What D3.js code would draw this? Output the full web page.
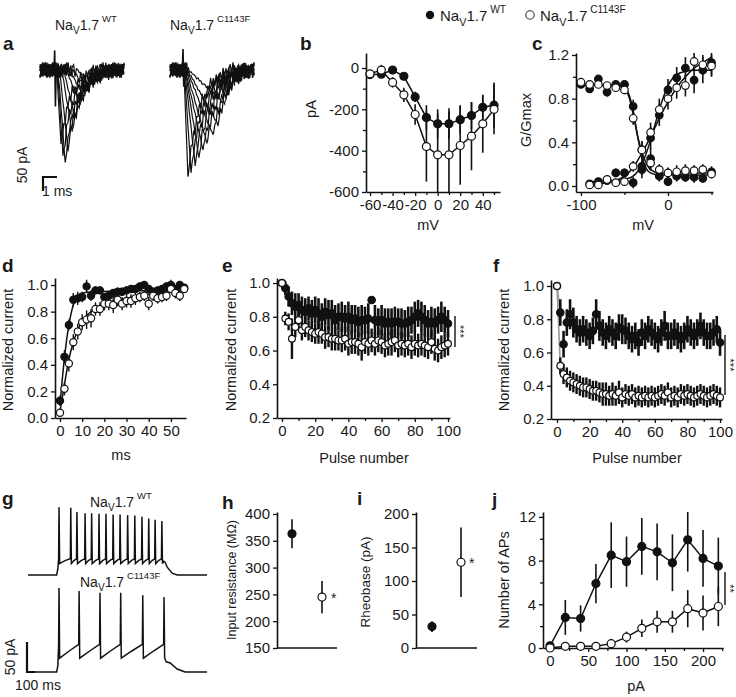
<!DOCTYPE html>
<html><head><meta charset="utf-8">
<script src="https://cdn.jsdelivr.net/npm/d3@7"></script>
<style>
body{margin:0;background:#fff}
text{font-family:"Liberation Sans",Arial,Helvetica,sans-serif;fill:#1a1a1a}
</style>
</head><body>
<svg id="fig" width="736" height="697"></svg>
<script>
// ===================== DATA =====================
// Panel a: current traces (ms, pA) — key points per sweep
const aWtOnset = [1.2,1.25,1.3,1.4,1.55,1.7,1.9,2.1,2.3,2.6];
const aWtPeakT = [1.5,1.64,1.8,2.0,2.3,2.5,2.86,3.14,3.4,3.8];
const aWtPeakA = [-268,-304,-332,-286,-221,-171,-125,-96,-71,-40];
const aWtEnd   = [4.0,4.3,4.6,4.8,5.0,5.3,5.5,5.8,5.9,6.0];
const aMutOnset = [1.0,1.02,1.05,1.08,1.1,1.15,1.2,1.25,1.3];
const aMutPeakT = [1.28,1.5,1.8,2.07,2.36,2.64,3.07,3.43,3.9];
const aMutPeakA = [-382,-364,-339,-314,-286,-261,-232,-196,-120];
const aMutEnd   = [4.3,4.6,4.9,5.2,5.5,5.8,6.0,6.0,6.0];
const aNoise = [12,-18,22,-9,15,-24,6,19,-14,25,-6,-20,10,17,-22,4,21,-12,8,-25,14,-4,18,-16,24,-10,5,-21,13,-7,20,-15,9,-19,16,-3,11];
const aWtArtifact = [[1.0,0],[1.05,70],[1.1,-130],[1.15,-20],[1.2,0]];
const aMutArtifact = [[0.88,0],[0.93,75],[0.98,-60],[1.02,0]];

// Panel b: I-V
const bVolt = [-60,-50,-40,-30,-20,-10,0,10,20,30,40,50];
const bWT = [-32,-30,-10,-40,-140,-240,-270,-270,-250,-230,-190,-180];
const bWTErr = [8,8,10,15,25,60,70,75,70,65,60,110];
const bMut = [-28,-10,-70,-130,-225,-380,-420,-420,-375,-330,-270,-200];
const bMutErr = [10,25,25,35,50,170,200,210,190,165,140,120];

// Panel c: activation / inactivation
const cInactV = [-100,-90,-80,-70,-60,-50,-40,-30,-20,-10,0,10,20,30,40,50];
const cInactWT = [0.93,0.89,0.98,0.86,0.93,0.93,0.73,0.18,0.25,0.09,0.04,0.09,0.08,0.08,0.07,0.13];
const cInactWTErr = [0.02,0.02,0.02,0.04,0.03,0.03,0.06,0.08,0.10,0.05,0.04,0.05,0.04,0.05,0.04,0.05];
const cInactMut = [0.95,0.93,0.93,0.92,0.90,0.88,0.62,0.33,0.21,0.15,0.12,0.13,0.14,0.14,0.15,0.11];
const cInactMutErr = [0.02,0.02,0.02,0.02,0.03,0.04,0.06,0.08,0.07,0.05,0.05,0.06,0.06,0.05,0.05,0.04];
const cActV = [-90,-80,-70,-60,-50,-40,-30,-20,-10,0,10,20,30,40,50];
const cActWT = [0.02,0.04,0.05,0.12,0.12,0.03,0.15,0.44,0.65,0.88,0.99,1.08,0.97,1.06,1.13];
const cActWTErr = [0.03,0.03,0.03,0.04,0.04,0.05,0.08,0.10,0.10,0.10,0.10,0.10,0.12,0.12,0.12];
const cActMut = [0.01,0.01,0.06,0.03,0.04,0.18,0.33,0.49,0.70,0.80,0.90,0.92,1.14,1.11,1.10];
const cActMutErr = [0.02,0.02,0.03,0.03,0.04,0.05,0.08,0.09,0.10,0.10,0.10,0.10,0.08,0.09,0.10];
// fitted Boltzmann curves
const cFitInactWT = [[-100,0.92],[-60,0.92],[-50,0.90],[-45,0.84],[-40,0.69],[-35,0.46],[-30,0.27],[-25,0.16],[-20,0.12],[-10,0.10],[50,0.10]];
const cFitInactMut = [[-100,0.93],[-60,0.92],[-50,0.89],[-45,0.82],[-40,0.66],[-35,0.46],[-30,0.31],[-25,0.21],[-20,0.15],[-10,0.12],[50,0.12]];
const cFitActWT = [[-90,0.04],[-60,0.05],[-50,0.06],[-40,0.09],[-30,0.2],[-25,0.3],[-20,0.42],[-15,0.56],[-10,0.7],[-5,0.82],[0,0.92],[10,1.02],[20,1.05],[30,1.06],[50,1.06]];
const cFitActMut = [[-90,0.01],[-70,0.03],[-60,0.05],[-50,0.09],[-40,0.17],[-30,0.3],[-20,0.45],[-10,0.62],[0,0.77],[10,0.9],[20,1.0],[30,1.08],[40,1.13],[50,1.18]];

// Panel d: recovery from inactivation
const dTime = [0,2,4,6,8,10,12,14,16,18,20,22,24,26,28,30,32,34,36,38,40,42,44,46,48,50,52,54,56];
const dWT = [0.13,0.46,0.70,0.89,0.90,0.91,0.99,0.92,0.96,0.96,0.91,0.92,0.94,0.95,0.95,0.96,0.97,0.97,0.99,1.00,0.97,0.95,0.96,0.97,0.99,1.00,0.97,1.00,0.98];
const dWTErr = [0.04,0.05,0.04,0.05,0.05,0.04,0.05,0.04,0.03,0.03,0.03,0.03,0.03,0.03,0.03,0.03,0.03,0.03,0.03,0.03,0.03,0.03,0.03,0.03,0.03,0.04,0.03,0.03,0.03];
const dMut = [0.04,0.22,0.41,0.57,0.65,0.72,0.74,0.75,0.82,0.82,0.86,0.86,0.85,0.89,0.86,0.88,0.88,0.90,0.91,0.92,0.86,0.92,0.90,0.91,0.92,0.97,0.94,0.92,0.97];
const dMutErr = [0.02,0.05,0.06,0.06,0.06,0.06,0.07,0.07,0.05,0.05,0.05,0.05,0.06,0.05,0.05,0.05,0.05,0.05,0.04,0.04,0.05,0.04,0.04,0.04,0.04,0.03,0.04,0.04,0.03];
const dFitWT = [[0,0.10],[2,0.45],[4,0.70],[6,0.85],[8,0.92],[10,0.94],[15,0.95],[56,0.96]];
const dFitMut = [[0,0.05],[2,0.25],[4,0.44],[6,0.57],[8,0.66],[10,0.73],[14,0.80],[20,0.86],[30,0.90],[40,0.93],[56,0.96]];

// Panel e: use-dependent (low frequency)
const pulses = [0,2,4,6,8,10,12,14,16,18,20,22,24,26,28,30,32,34,36,38,40,42,44,46,48,50,52,54,56,58,60,62,64,66,68,70,72,74,76,78,80,82,84,86,88,90,92,94,96,98,100];
const eWT = [1.00,0.97,0.92,0.88,0.86,0.87,0.84,0.83,0.85,0.82,0.84,0.82,0.80,0.83,0.81,0.82,0.78,0.80,0.80,0.79,0.80,0.78,0.79,0.77,0.78,0.78,0.79,0.90,0.78,0.77,0.78,0.76,0.77,0.76,0.77,0.77,0.76,0.76,0.77,0.78,0.80,0.82,0.80,0.78,0.76,0.77,0.76,0.78,0.80,0.78,0.76];
const eWTErr = [0.02,0.04,0.06,0.07,0.08,0.07,0.08,0.08,0.07,0.08,0.08,0.09,0.08,0.08,0.09,0.08,0.09,0.08,0.09,0.08,0.09,0.09,0.08,0.09,0.09,0.08,0.09,0.02,0.09,0.08,0.09,0.09,0.08,0.09,0.09,0.08,0.09,0.08,0.09,0.08,0.09,0.08,0.09,0.09,0.08,0.09,0.09,0.08,0.09,0.08,0.08];
const eMut = [1.00,0.79,0.77,0.67,0.74,0.78,0.72,0.74,0.72,0.71,0.70,0.71,0.70,0.68,0.68,0.67,0.67,0.66,0.66,0.67,0.64,0.65,0.65,0.64,0.62,0.65,0.64,0.66,0.64,0.66,0.65,0.63,0.64,0.65,0.66,0.63,0.64,0.63,0.64,0.62,0.64,0.63,0.64,0.63,0.62,0.65,0.61,0.60,0.62,0.63,0.64];
const eMutErr = [0.01,0.04,0.05,0.12,0.06,0.06,0.06,0.06,0.06,0.06,0.06,0.07,0.06,0.07,0.06,0.07,0.07,0.06,0.07,0.07,0.07,0.07,0.07,0.07,0.08,0.07,0.07,0.07,0.07,0.07,0.07,0.07,0.07,0.08,0.07,0.07,0.07,0.07,0.07,0.07,0.07,0.07,0.07,0.07,0.07,0.07,0.07,0.07,0.07,0.07,0.07];

// Panel f: use-dependent (high frequency)
const fWT = [1.00,0.84,0.65,0.78,0.83,0.78,0.74,0.72,0.74,0.72,0.70,0.73,0.83,0.76,0.72,0.70,0.74,0.72,0.70,0.75,0.74,0.73,0.70,0.68,0.70,0.66,0.72,0.70,0.74,0.72,0.70,0.68,0.72,0.76,0.70,0.70,0.72,0.70,0.68,0.70,0.74,0.72,0.70,0.72,0.76,0.72,0.70,0.70,0.72,0.74,0.66];
const fWTErr = [0.01,0.08,0.08,0.08,0.09,0.09,0.08,0.08,0.08,0.08,0.08,0.08,0.09,0.09,0.08,0.08,0.08,0.08,0.08,0.08,0.09,0.08,0.08,0.08,0.08,0.08,0.08,0.08,0.08,0.08,0.08,0.08,0.08,0.09,0.08,0.08,0.08,0.08,0.08,0.08,0.08,0.08,0.08,0.08,0.08,0.08,0.08,0.08,0.08,0.08,0.08];
const fMut = [1.00,0.52,0.47,0.45,0.43,0.42,0.41,0.40,0.39,0.39,0.38,0.37,0.37,0.36,0.35,0.35,0.34,0.35,0.34,0.36,0.33,0.35,0.34,0.35,0.33,0.34,0.33,0.34,0.33,0.34,0.33,0.34,0.35,0.34,0.36,0.33,0.34,0.33,0.35,0.34,0.35,0.34,0.33,0.34,0.35,0.34,0.33,0.34,0.35,0.34,0.33];
const fMutErr = [0.01,0.05,0.06,0.06,0.06,0.06,0.06,0.06,0.06,0.06,0.06,0.06,0.06,0.06,0.07,0.07,0.06,0.07,0.06,0.07,0.06,0.06,0.06,0.06,0.06,0.06,0.06,0.06,0.06,0.06,0.06,0.06,0.06,0.06,0.06,0.06,0.06,0.06,0.06,0.06,0.06,0.06,0.06,0.06,0.06,0.06,0.06,0.06,0.06,0.06,0.06];

// Panel g: action potential trains (ms, mV)
const gStimOn = 150, gStimOff = 690;
const gTopSpikes = [156,215,246,287,320,357,392,428,463,501,537,573,607,639,673];
const gTopPeaks  = [48,47,40,38,38,37,37,36,36,35,34,32,29,27,25];
const gBotSpikes = [156,257,362,466,577,684];
const gBotPeaks  = [75,70,67,67,63,60];

// Panel h, i: passive/active properties
const groups = ["WT","C1143F"];
const hVals = [363,245];
const hErr = [27,30];
const iVals = [32,128];
const iErr = [8,52];

// Panel j: firing vs current
const jCurr = [0,20,40,60,80,100,120,140,160,180,200,220];
const jWT = [0.2,2.8,2.7,5.9,8.5,7.9,9.3,8.8,7.8,9.9,8.2,7.5];
const jWTErr = [0.1,1.6,1.2,1.8,3.0,2.3,2.6,2.6,2.6,2.9,2.6,2.6];
const jMut = [0.0,0.15,0.15,0.15,0.4,1.0,1.8,2.4,2.4,3.6,3.2,3.8];
const jMutErr = [0.0,0.1,0.1,0.1,0.2,0.5,0.8,1.0,1.0,1.7,1.6,1.8];

// ===================== DRAWING =====================
const svg = d3.select("#fig");
const INK = "#111";
const FS_TICK = 15, FS_LAB = 14.5;

function styleAxis(sel){
  sel.select(".domain").attr("stroke",INK).attr("stroke-width",1.6);
  sel.selectAll(".tick line").attr("stroke",INK).attr("stroke-width",1.3);
  sel.selectAll(".tick text").attr("fill","#1a1a1a").style("font-size",FS_TICK+"px")
     .style("font-family",'"Liberation Sans",Arial,sans-serif');
}
function xAxis(g, x, yPos, major, minor, fmt){
  const a = g.append("g").attr("transform",`translate(0,${yPos})`)
    .call(d3.axisBottom(x).tickValues(major).tickFormat(fmt||(d=>String(d))).tickSize(4).tickSizeOuter(0).tickPadding(3));
  styleAxis(a);
  if(minor){
    const m = g.append("g").attr("transform",`translate(0,${yPos})`)
      .call(d3.axisBottom(x).tickValues(minor).tickFormat("").tickSize(3).tickSizeOuter(0));
    m.select(".domain").remove(); styleAxis(m);
  }
}
function yAxis(g, y, xPos, major, minor, fmt){
  const a = g.append("g").attr("transform",`translate(${xPos},0)`)
    .call(d3.axisLeft(y).tickValues(major).tickFormat(fmt||(d=>String(d))).tickSize(4).tickSizeOuter(0).tickPadding(3));
  styleAxis(a);
  if(minor){
    const m = g.append("g").attr("transform",`translate(${xPos},0)`)
      .call(d3.axisLeft(y).tickValues(minor).tickFormat("").tickSize(3).tickSizeOuter(0));
    m.select(".domain").remove(); styleAxis(m);
  }
}
function errBars(g, xs, ys, xv, v, e, w){
  const [lo, hi] = d3.extent(ys.range());
  g.append("g").selectAll("line").data(v).join("line")
    .attr("x1",(d,i)=>xs(xv[i])).attr("x2",(d,i)=>xs(xv[i]))
    .attr("y1",(d,i)=>Math.min(hi,Math.max(lo,ys(d-e[i]))))
    .attr("y2",(d,i)=>Math.min(hi,Math.max(lo,ys(d+e[i]))))
    .attr("stroke",INK).attr("stroke-width",w||1.6);
}
function dots(g, xs, ys, xv, v, filled, r){
  g.append("g").selectAll("circle").data(v).join("circle")
    .attr("cx",(d,i)=>xs(xv[i])).attr("cy",d=>ys(d)).attr("r",r||3.8)
    .attr("fill",filled?INK:"#fff").attr("stroke",INK).attr("stroke-width",1.2);
}
function connect(g, xs, ys, xv, v, curve, color, w){
  const ln = d3.line().x((d,i)=>xs(xv[i])).y(d=>ys(d)).curve(curve||d3.curveLinear);
  g.append("path").attr("d",ln(v)).attr("fill","none").attr("stroke",color||INK).attr("stroke-width",w||1.5);
}
function fitLine(g, xs, ys, pts){
  const ln = d3.line().x(d=>xs(d[0])).y(d=>ys(d[1])).curve(d3.curveMonotoneX);
  g.append("path").attr("d",ln(pts)).attr("fill","none").attr("stroke",INK).attr("stroke-width",1.5);
}
function txt(x,y,s,opt){
  opt=opt||{};
  const t = svg.append("text").attr("x",x).attr("y",y).text(s)
    .style("font-size",(opt.fs||FS_LAB)+"px").attr("text-anchor",opt.anchor||"start");
  if(opt.bold) t.style("font-weight","bold");
  if(opt.rot) t.attr("transform",`rotate(${opt.rot},${x},${y})`);
  return t;
}
function naText(x,y,sup,fs){
  const t = svg.append("text").attr("x",x).attr("y",y).style("font-size",fs+"px");
  t.append("tspan").text("Na");
  t.append("tspan").attr("dy",fs*0.3).style("font-size",(fs*0.72)+"px").text("V");
  t.append("tspan").attr("dy",-fs*0.3).text("1.7");
  t.append("tspan").attr("dy",-fs*0.55).attr("dx",3).style("font-size",(fs*0.68)+"px").text(sup);
}
function sigBar(x, y0, y1, stars){
  svg.append("line").attr("x1",x).attr("x2",x).attr("y1",y0).attr("y2",y1).attr("stroke",INK).attr("stroke-width",1.4);
  txt(x+1,(y0+y1)/2,stars,{fs:11,anchor:"middle",rot:90});
}

// ---------- Legend ----------
svg.append("circle").attr("cx",430).attr("cy",15).attr("r",4.2).attr("fill",INK);
naText(440,21,"WT",15);
svg.append("circle").attr("cx",530).attr("cy",15).attr("r",4.2).attr("fill","#fff").attr("stroke","#333").attr("stroke-width",1.1);
naText(540,21,"C1143F",15);

// ---------- Panel labels ----------
[["a",3,50],["b",300,50],["c",532,50],["d",2,272],["e",222,272],["f",493,272],["g",2,505],["h",222,509],["i",357,505],["j",492,506]]
  .forEach(([s,x,y])=>txt(x,y,s,{fs:19,bold:true}));

// ---------- Panel a ----------
{
  const g = svg.append("g");
  const ay = d3.scaleLinear().domain([0,-350]).range([70,168]);
  function drawSet(x0, onset, peakT, peakA, endT, artifact){
    const tx = d3.scaleLinear().domain([0,6]).range([x0,x0+84]);
    const base = d3.range(0,6.0001,0.1);
    onset.forEach((o,k)=>{
      const tp = peakT[k], A = peakA[k], te = endT[k], dd = te-tp;
      const resp = d3.scaleLinear().domain([o,tp,tp+0.12*dd,tp+0.3*dd,tp+0.55*dd,te])
        .range([0,A,A*0.62,A*0.32,A*0.12,0]).clamp(true);
      const ts = Array.from(new Set(base.concat([o,tp]))).sort((a,b)=>a-b);
      const pts = ts.map((t,i)=>[t, resp(t) + aNoise[(i + k*7) % aNoise.length]*((t>o && t<tp+0.15)?0.2:1.1)]);
      g.append("path").attr("d",d3.line().x(d=>tx(d[0])).y(d=>ay(d[1]))(pts))
        .attr("fill","none").attr("stroke",INK).attr("stroke-width",1.2);
    });
    g.append("path").attr("d",d3.line().x(d=>tx(d[0])).y(d=>ay(d[1]))(artifact))
      .attr("fill","none").attr("stroke",INK).attr("stroke-width",1.6);
    return tx;
  }
  const tx = drawSet(40, aWtOnset, aWtPeakT, aWtPeakA, aWtEnd, aWtArtifact);
  drawSet(170, aMutOnset, aMutPeakT, aMutPeakA, aMutEnd, aMutArtifact);
  // scale bar: 50 pA, 1 ms
  const sx = 43, sy = ay(0)-ay(-50), sw = tx(1)-tx(0);
  g.append("path").attr("d",`M${sx},${177-sy}V177H${sx+sw}`).attr("fill","none").attr("stroke",INK).attr("stroke-width",2.2);
  txt(27,165,"50 pA",{fs:14,anchor:"middle",rot:-90});
  txt(42,196,"1 ms",{fs:14});
  naText(55,30,"WT",14);
  naText(170,30,"C1143F",14);
}

// ---------- Panel b ----------
{
  const g = svg.append("g");
  const x = d3.scaleLinear().domain([-63.6,55.3]).range([366,500]);
  const y = d3.scaleLinear().domain([-600,72.6]).range([192,53]);
  yAxis(g,y,366,[0,-200,-400,-600],[-100,-300,-500]);
  xAxis(g,x,192,[-60,-40,-20,0,20,40],[-50,-30,-10,10,30,50]);
  errBars(g,x,y,bVolt,bMut,bMutErr);
  errBars(g,x,y,bVolt,bWT,bWTErr);
  connect(g,x,y,bVolt,bWT);
  connect(g,x,y,bVolt,bMut);
  dots(g,x,y,bVolt,bWT,true,4);
  dots(g,x,y,bVolt,bMut,false,4);
  txt(316,109,"pA",{anchor:"middle",rot:-90});
  txt(428,230,"mV",{anchor:"middle"});
}

// ---------- Panel c ----------
{
  const g = svg.append("g");
  const x = d3.scaleLinear().domain([-105.7,51.7]).range([576,713]);
  const y = d3.scaleLinear().domain([-0.055,1.218]).range([192,53]);
  yAxis(g,y,576,[0,0.4,0.8,1.2],[0.2,0.6,1.0],d3.format(".1f"));
  xAxis(g,x,192,[-100,0],[-50,50]);
  fitLine(g,x,y,cFitInactWT); fitLine(g,x,y,cFitInactMut);
  fitLine(g,x,y,cFitActWT); fitLine(g,x,y,cFitActMut);
  errBars(g,x,y,cInactV,cInactWT,cInactWTErr);
  errBars(g,x,y,cInactV,cInactMut,cInactMutErr);
  errBars(g,x,y,cActV,cActWT,cActWTErr);
  errBars(g,x,y,cActV,cActMut,cActMutErr);
  dots(g,x,y,cInactV,cInactWT,true);
  dots(g,x,y,cActV,cActWT,true);
  dots(g,x,y,cInactV,cInactMut,false);
  dots(g,x,y,cActV,cActMut,false);
  txt(531,120,"G/Gmax",{anchor:"middle",rot:-90});
  txt(643,230,"mV",{anchor:"middle"});
}

// ---------- Panel d ----------
{
  const g = svg.append("g");
  const x = d3.scaleLinear().domain([-2.25,56.8]).range([55,186]);
  const y = d3.scaleLinear().domain([0,1.053]).range([418,278]);
  yAxis(g,y,55,[0,0.2,0.4,0.6,0.8,1.0],null,d3.format(".1f"));
  xAxis(g,x,418,[0,10,20,30,40,50]);
  errBars(g,x,y,dTime,dMut,dMutErr,1.4);
  errBars(g,x,y,dTime,dWT,dWTErr,1.4);
  fitLine(g,x,y,dFitWT); fitLine(g,x,y,dFitMut);
  dots(g,x,y,dTime,dWT,true,3.6);
  dots(g,x,y,dTime,dMut,false,3.6);
  txt(13,350,"Normalized current",{anchor:"middle",rot:-90});
  txt(121,460,"ms",{anchor:"middle"});
}

// ---------- Panel e ----------
{
  const g = svg.append("g");
  const x = d3.scaleLinear().domain([-3.0,101.2]).range([277,450]);
  const y = d3.scaleLinear().domain([0.2,1.03]).range([418,278]);
  yAxis(g,y,277,[0.2,0.4,0.6,0.8,1.0],null,d3.format(".1f"));
  xAxis(g,x,418,[0,20,40,60,80,100],[10,30,50,70,90]);
  errBars(g,x,y,pulses,eWT,eWTErr,2.6);
  errBars(g,x,y,pulses,eMut,eMutErr,2.4);
  dots(g,x,y,pulses,eWT,true,3.7);
  dots(g,x,y,pulses,eMut,false,3.4);
  txt(236,350,"Normalized current",{anchor:"middle",rot:-90});
  txt(364,463,"Pulse number",{anchor:"middle"});
  sigBar(455,316,347,"***");
}

// ---------- Panel f ----------
{
  const g = svg.append("g");
  const x = d3.scaleLinear().domain([-3.7,101.2]).range([551,722]);
  const y = d3.scaleLinear().domain([0.2,1.036]).range([419,280]);
  yAxis(g,y,551,[0.2,0.4,0.6,0.8,1.0],null,d3.format(".1f"));
  xAxis(g,x,419,[0,20,40,60,80,100],[10,30,50,70,90]);
  connect(g,x,y,pulses.slice(0,2),fMut.slice(0,2),null,"#999",1.6);
  connect(g,x,y,pulses.slice(0,2),fWT.slice(0,2),null,"#999",1.6);
  errBars(g,x,y,pulses,fWT,fWTErr,2.6);
  errBars(g,x,y,pulses,fMut,fMutErr,2.4);
  dots(g,x,y,pulses,fWT,true,3.7);
  dots(g,x,y,pulses,fMut,false,3.4);
  txt(509,350,"Normalized current",{anchor:"middle",rot:-90});
  txt(637,463,"Pulse number",{anchor:"middle"});
  sigBar(725,335,395,"***");
}

// ---------- Panel g ----------
{
  const g = svg.append("g");
  const tx = d3.scaleLinear().domain([0,900]).range([28,207]);
  function trace(baseY, spikes, peaks, pre, trough, mid, tail){
    const vy = d3.scaleLinear().domain([-65,80]).range([baseY, baseY-145*0.6]);
    const pts = [[0,-65],[gStimOn-6,-65],[gStimOn,-55]];
    spikes.forEach((s,i)=>{
      pts.push([s-2, pre]); pts.push([s, peaks[i]]); pts.push([s+3, trough]);
      if(i<spikes.length-1){
        const nx = spikes[i+1];
        pts.push([s+3+(nx-s-5)*0.5, mid]);
      }
    });
    tail.forEach(p=>pts.push(p));
    g.append("path").attr("d",d3.line().x(d=>tx(d[0])).y(d=>vy(d[1]))(pts))
      .attr("fill","none").attr("stroke",INK).attr("stroke-width",1.5);
  }
  trace(575, gTopSpikes, gTopPeaks, -38, -46, -41,
    [[gStimOff-8,-42],[gStimOff,-44],[gStimOff+10,-52],[gStimOff+35,-62],[gStimOff+60,-65],[900,-65]]);
  trace(672, gBotSpikes, gBotPeaks, -19, -42, -30,
    [[gStimOff+5,-48],[gStimOff+25,-50],[gStimOff+60,-60],[gStimOff+100,-65],[900,-65]]);
  g.append("path").attr("d","M27,642V672H35").attr("fill","none").attr("stroke",INK).attr("stroke-width",2.2);
  txt(15,657,"50 pA",{fs:14,anchor:"middle",rot:-90});
  txt(15,690,"100 ms",{fs:14});
  naText(90,507,"WT",14);
  naText(80,587,"C1143F",14);
}

// ---------- Panel h ----------
{
  const g = svg.append("g");
  const x = d3.scalePoint().domain(groups).range([292,322]);
  const y = d3.scaleLinear().domain([150,403.7]).range([648,512]);
  yAxis(g,y,277,[150,200,250,300,350,400]);
  g.append("line").attr("x1",277).attr("x2",337).attr("y1",648).attr("y2",648).attr("stroke",INK).attr("stroke-width",1.6);
  errBars(g,x,y,groups,hVals,hErr);
  dots(g,x,y,groups,[hVals[0]],true,4);
  dots(g,x,y,[groups[1]],[hVals[1]],false,4);
  txt(331,603,"*",{fs:14});
  txt(236,580,"Input resistance (M\u03A9)",{fs:12.5,anchor:"middle",rot:-90});
}

// ---------- Panel i ----------
{
  const g = svg.append("g");
  const x = d3.scalePoint().domain(groups).range([432,461]);
  const y = d3.scaleLinear().domain([0,203]).range([648,512]);
  yAxis(g,y,416,[0,50,100,150,200]);
  g.append("line").attr("x1",416).attr("x2",477).attr("y1",648).attr("y2",648).attr("stroke",INK).attr("stroke-width",1.6);
  errBars(g,x,y,groups,iVals,iErr);
  dots(g,x,y,groups,[iVals[0]],true,4);
  dots(g,x,y,[groups[1]],[iVals[1]],false,4);
  txt(469,568,"*",{fs:14});
  txt(370,582,"Rheobase (pA)",{fs:13.5,anchor:"middle",rot:-90});
}

// ---------- Panel j ----------
{
  const g = svg.append("g");
  const x = d3.scaleLinear().domain([-9.15,226.1]).range([543,723]);
  const y = d3.scaleLinear().domain([0,12.45]).range([648,512]);
  yAxis(g,y,543,[0,4,8,12],[2,6,10]);
  xAxis(g,x,648,[0,50,100,150,200],[25,75,125,175,225]);
  errBars(g,x,y,jCurr,jWT,jWTErr);
  errBars(g,x,y,jCurr,jMut,jMutErr);
  connect(g,x,y,jCurr,jWT);
  connect(g,x,y,jCurr,jMut);
  dots(g,x,y,jCurr,jWT,true,4);
  dots(g,x,y,jCurr,jMut,false,4);
  txt(509,580,"Number of APs",{anchor:"middle",rot:-90});
  txt(636,691,"pA",{anchor:"middle"});
  sigBar(725,572,605,"**");
}
</script>
</body></html>
